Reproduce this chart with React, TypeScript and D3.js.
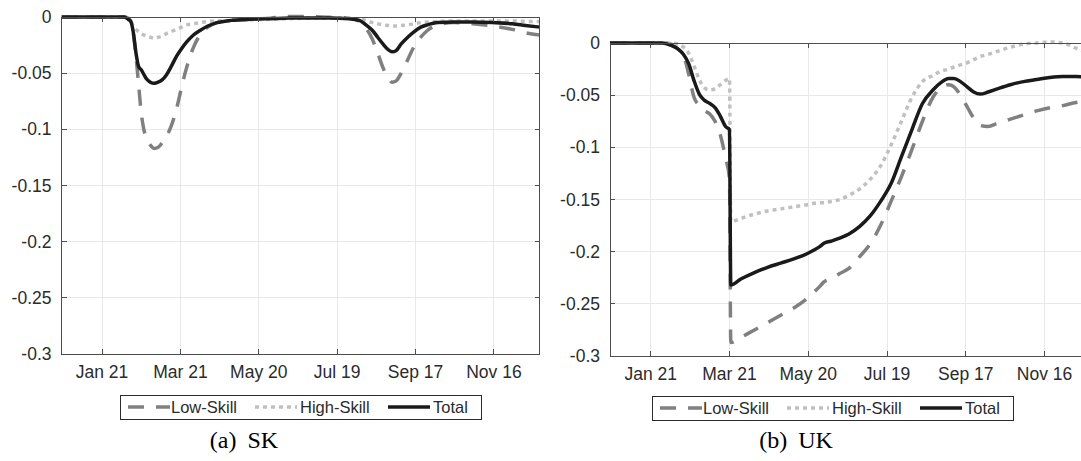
import React from 'react'
import * as d3 from 'd3'

const W = 1081
const H = 461

// x values are day-of-year numbers in 2020 (day 21 = 21 Jan)
const skDays = [-10, 20, 38, 41, 43, 45, 47, 49, 51, 53, 55, 58, 61, 64, 67, 70, 74, 78, 82, 86, 91, 96, 102, 109, 120, 135, 150, 165, 180, 195, 210, 218, 223, 228, 232, 236, 240, 243, 246, 250, 255, 260, 265, 270, 278, 290, 305, 320, 335, 345, 356]
const skLow = [0, 0, 0, -0.001, -0.004, -0.015, -0.035, -0.06, -0.085, -0.1, -0.108, -0.114, -0.117, -0.116, -0.112, -0.107, -0.097, -0.082, -0.062, -0.044, -0.027, -0.016, -0.009, -0.005, -0.003, -0.002, -0.001, 0.0005, 0.0003, -0.0003, -0.001, -0.004, -0.01, -0.02, -0.032, -0.045, -0.054, -0.058, -0.057, -0.05, -0.038, -0.026, -0.018, -0.012, -0.007, -0.005, -0.006, -0.008, -0.011, -0.014, -0.016]
const skHigh = [0, 0, 0, -0.001, -0.004, -0.008, -0.011, -0.013, -0.015, -0.016, -0.017, -0.018, -0.019, -0.018, -0.017, -0.015, -0.013, -0.011, -0.009, -0.007, -0.006, -0.005, -0.004, -0.0035, -0.003, -0.0025, -0.002, -0.0015, -0.001, -0.0008, -0.001, -0.002, -0.003, -0.005, -0.006, -0.007, -0.0075, -0.008, -0.008, -0.0075, -0.007, -0.006, -0.005, -0.0045, -0.004, -0.0035, -0.0035, -0.0035, -0.0035, -0.004, -0.004]
const skTotal = [0, 0, 0, -0.002, -0.004, -0.014, -0.032, -0.044, -0.047, -0.051, -0.055, -0.058, -0.059, -0.058, -0.056, -0.052, -0.044, -0.035, -0.028, -0.022, -0.016, -0.012, -0.008, -0.005, -0.003, -0.002, -0.0015, -0.001, -0.0008, -0.0008, -0.0015, -0.003, -0.007, -0.012, -0.018, -0.024, -0.029, -0.031, -0.03, -0.024, -0.018, -0.013, -0.009, -0.007, -0.005, -0.0045, -0.0045, -0.005, -0.006, -0.0075, -0.009]

const ukDays = [-10, 20, 30, 36, 42, 46, 50, 54, 58, 62, 66, 70, 74, 78, 81, 82, 90, 100, 110, 120, 130, 140, 150, 153, 158, 165, 172, 180, 188, 196, 204, 212, 220, 228, 236, 242, 248, 252, 257, 262, 267, 272, 278, 285, 295, 305, 315, 325, 335, 345, 356]
const ukLow = [0, 0, 0, -0.001, -0.006, -0.012, -0.03, -0.052, -0.06, -0.065, -0.068, -0.075, -0.088, -0.11, -0.13, -0.287, -0.282, -0.275, -0.268, -0.261, -0.254, -0.245, -0.233, -0.229, -0.226, -0.221, -0.216, -0.205, -0.193, -0.175, -0.152, -0.128, -0.102, -0.075, -0.052, -0.043, -0.04, -0.042, -0.05, -0.061, -0.072, -0.079, -0.08, -0.077, -0.073, -0.069, -0.065, -0.062, -0.06, -0.057, -0.055]
const ukHigh = [0, 0, 0, 0, -0.001, -0.004, -0.01, -0.022, -0.035, -0.043, -0.045, -0.044, -0.04, -0.036, -0.034, -0.171, -0.168, -0.164, -0.161, -0.159, -0.157, -0.155, -0.153, -0.153, -0.152, -0.15, -0.146, -0.14, -0.131, -0.118, -0.098, -0.075, -0.052, -0.037, -0.031, -0.027, -0.025, -0.023, -0.021, -0.019, -0.016, -0.013, -0.011, -0.008, -0.004, -0.001, 0, 0.001, 0, -0.005, -0.01]
const ukTotal = [0, 0, 0, -0.002, -0.006, -0.011, -0.02, -0.036, -0.049, -0.055, -0.058, -0.062, -0.07, -0.08, -0.083, -0.232, -0.226, -0.22, -0.215, -0.211, -0.207, -0.202, -0.195, -0.192, -0.19, -0.187, -0.183, -0.176, -0.166, -0.152, -0.135, -0.109, -0.083, -0.058, -0.045, -0.038, -0.034, -0.034, -0.037, -0.042, -0.047, -0.049, -0.047, -0.044, -0.04, -0.037, -0.035, -0.033, -0.032, -0.032, -0.034]

const xTickDays = [21, 81, 141, 201, 261, 321]
const yTicks = [0, -0.05, -0.1, -0.15, -0.2, -0.25, -0.3]
const seriesNames = ['Low-Skill', 'High-Skill', 'Total']

const styles: Record<string, {stroke: string, dash?: string}> = {
    'Low-Skill': {stroke: '#808080', dash: '16,12'},
    'High-Skill': {stroke: '#c0c0c0', dash: '4,4'},
    'Total': {stroke: '#1a1a1a'},
}

const sans = 'Liberation Sans, Arial, Helvetica, sans-serif'
const ink = '#2b2b2b'

// day 0 = 31 Dec 2019, so day 21 lands on 21 Jan 2020
const start = new Date(2019, 11, 31)
const dayToDate = (d: number) => d3.timeDay.offset(start, d)
const fmt = d3.timeFormat('%b %d')

function Panel({id, days, series, x0, x1, y0, y1, legendX, legendY, caption, captionX}: any) {
    const x = d3.scaleTime().domain([dayToDate(-10), dayToDate(356)]).range([x0, x1])
    const y = d3.scaleLinear().domain([-0.3, 0]).range([y1, y0])

    const line = d3.line<number>()
        .x((_, i) => x(dayToDate(days[i])))
        .y(v => y(v))
        .curve(d3.curveMonotoneX)

    const legendOffsets = [8, 135, 268]
    const legendTextOffsets = [51, 180, 313]
    const ly = legendY + 12

    return (
        <g>
            <defs>
                <clipPath id={id}>
                    <rect x={x0} y={y0 - 4} width={x1 - x0} height={y1 - y0 + 8}/>
                </clipPath>
            </defs>

            {/* grid */}
            <g stroke="#e8e8e8" strokeWidth={1} shapeRendering="crispEdges">
                {xTickDays.map(d => (
                    <line key={'gx' + d} x1={x(dayToDate(d))} x2={x(dayToDate(d))} y1={y0} y2={y1}/>
                ))}
                {yTicks.map(v => (
                    <line key={'gy' + v} x1={x0} x2={x1} y1={y(v)} y2={y(v)}/>
                ))}
            </g>

            {/* lines */}
            <g clipPath={`url(#${id})`} fill="none">
                {seriesNames.map((name, k) => (
                    <path key={name} d={line(series[k]) || ''}
                          stroke={styles[name].stroke}
                          strokeWidth={3.5}
                          strokeDasharray={styles[name].dash}
                          strokeLinejoin="round"/>
                ))}
            </g>

            {/* box and ticks */}
            <g stroke="#4d4d4d" strokeWidth={1} shapeRendering="crispEdges" fill="none">
                <rect x={x0} y={y0} width={x1 - x0} height={y1 - y0}/>
                {xTickDays.map(d => {
                    const px = x(dayToDate(d))
                    return (
                        <g key={'tx' + d}>
                            <line x1={px} x2={px} y1={y1} y2={y1 - 5}/>
                            <line x1={px} x2={px} y1={y0} y2={y0 + 5}/>
                        </g>
                    )
                })}
                {yTicks.map(v => (
                    <g key={'ty' + v}>
                        <line x1={x0} x2={x0 + 5} y1={y(v)} y2={y(v)}/>
                        <line x1={x1} x2={x1 - 5} y1={y(v)} y2={y(v)}/>
                    </g>
                ))}
            </g>

            {/* tick labels */}
            <g fontFamily={sans} fontSize={17.5} fill={ink}>
                {xTickDays.map(d => (
                    <text key={'lx' + d} x={x(dayToDate(d))} y={y1 + 24} textAnchor="middle">
                        {fmt(dayToDate(d))}
                    </text>
                ))}
                {yTicks.map(v => (
                    <text key={'ly' + v} x={x0 - 10} y={y(v)} dy="0.35em" textAnchor="end">
                        {String(v)}
                    </text>
                ))}
            </g>

            {/* legend */}
            <rect x={legendX} y={legendY} width={361} height={24} fill="white" stroke={ink} strokeWidth={1}
                  shapeRendering="crispEdges"/>
            {seriesNames.map((name, k) => (
                <g key={'lg' + name}>
                    <line x1={legendX + legendOffsets[k]} x2={legendX + legendOffsets[k] + 42} y1={ly} y2={ly}
                          stroke={styles[name].stroke} strokeWidth={3.5} strokeDasharray={styles[name].dash}/>
                    <text x={legendX + legendTextOffsets[k]} y={ly + 6} fontFamily={sans} fontSize={16.5}
                          fill={ink}>{name}</text>
                </g>
            ))}

            {/* caption */}
            <text x={captionX} y={448} textAnchor="middle" fontFamily="Liberation Serif, Times New Roman, serif"
                  fontSize={24} fill="#000">
                {caption[0] + ' '}<tspan dx={5}>{caption[1]}</tspan>
            </text>
        </g>
    )
}

export default function App() {
    return (
        <svg width={W} height={H} style={{position: 'absolute', left: 0, top: 0, background: 'white'}}>
            <Panel id="clip-sk" days={skDays} series={[skLow, skHigh, skTotal]}
                   x0={61.5} x1={539.7} y0={17} y1={354}
                   legendX={120} legendY={395} caption={['(a)', 'SK']} captionX={244}/>
            <Panel id="clip-uk" days={ukDays} series={[ukLow, ukHigh, ukTotal]}
                   x0={610} x1={1090.5} y0={43} y1={356}
                   legendX={652} legendY={396} caption={['(b)', 'UK']} captionX={796}/>
        </svg>
    )
}
